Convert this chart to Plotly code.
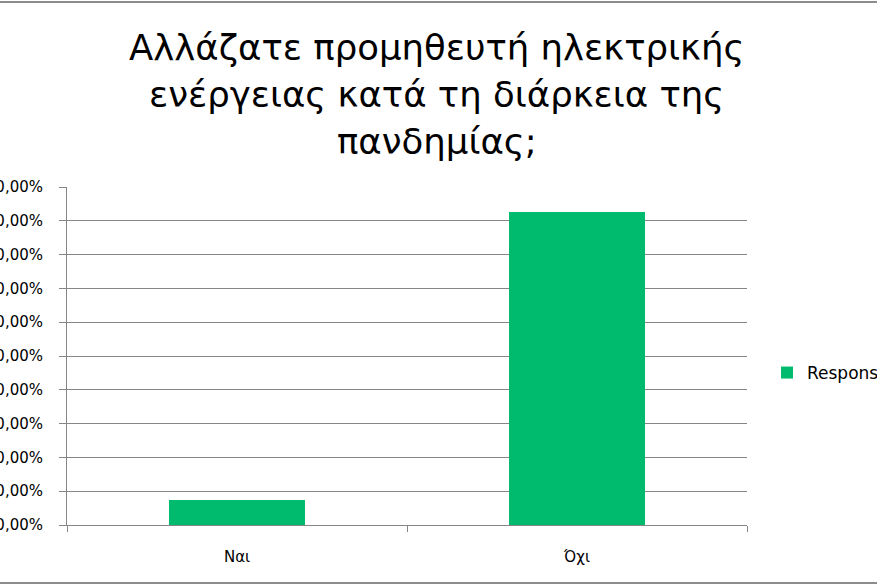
import plotly.graph_objects as go

categories = ["Ναι", "Όχι"]
values = [7.4, 92.6]
series_name = "Responses"
title_lines = ["Αλλάζατε προμηθευτή ηλεκτρικής", "ενέργειας κατά τη διάρκεια της", "πανδημίας;"]
tick_vals = [0, 10, 20, 30, 40, 50, 60, 70, 80, 90, 100]
tick_text = ["%d,00%%" % v for v in tick_vals]

W, H = 877, 585
L, R, T, B = 67, 130, 187, 60
plot_h = H - T - B
plot_w = W - L - R

fig = go.Figure()
fig.add_trace(go.Bar(
    x=categories, y=values, name=series_name,
    marker=dict(color="#00BA6E", line=dict(width=0)),
    showlegend=True,
))

def py(pix):
    return (H - B - pix) / plot_h

def px(pix):
    return (pix - L) / plot_w

annotations = []
for line, yc in zip(title_lines, [47, 95, 141]):
    annotations.append(dict(
        text=line, xref="paper", yref="paper", x=px(437), y=py(yc),
        xanchor="center", yanchor="middle", showarrow=False,
        font=dict(family="DejaVu Sans", size=35.5, color="#000000"),
    ))

shapes = [
    dict(type="line", xref="paper", yref="paper", x0=-0.2, x1=1.3, y0=py(2), y1=py(2),
         line=dict(color="#8C8C8C", width=2)),
    dict(type="line", xref="paper", yref="paper", x0=-0.2, x1=1.3, y0=py(583), y1=py(583),
         line=dict(color="#8C8C8C", width=2)),
]

fig.update_layout(
    width=W, height=H,
    margin=dict(l=L, r=R, t=T, b=B, autoexpand=False),
    paper_bgcolor="white", plot_bgcolor="white",
    bargap=0.6,
    annotations=annotations,
    shapes=shapes,
    font=dict(family="DejaVu Sans", size=15, color="#000000"),
    legend=dict(
        xref="container", yref="container", x=767 / W, y=1 - 373 / H,
        xanchor="left", yanchor="middle",
        font=dict(family="DejaVu Sans", size=17, color="#000000"),
        itemwidth=30, bgcolor="rgba(0,0,0,0)",
    ),
    xaxis=dict(
        showline=True, linecolor="#868686", linewidth=1,
        ticks="outside", ticklen=6, tickcolor="#868686", tickson="boundaries",
        showgrid=False, tickfont=dict(size=15), ticklabelstandoff=18,
        fixedrange=True,
    ),
    yaxis=dict(
        range=[0, 100], tickvals=tick_vals, ticktext=tick_text,
        showline=True, linecolor="#868686", linewidth=1,
        ticks="outside", ticklen=7, tickcolor="#868686",
        showgrid=True, gridcolor="#868686", gridwidth=1,
        zeroline=False, ticklabelstandoff=13,
        tickfont=dict(size=15),
    ),
)

fig.write_html("out.html", config={"displayModeBar": False},
               post_script="document.body.style.margin='0';")
